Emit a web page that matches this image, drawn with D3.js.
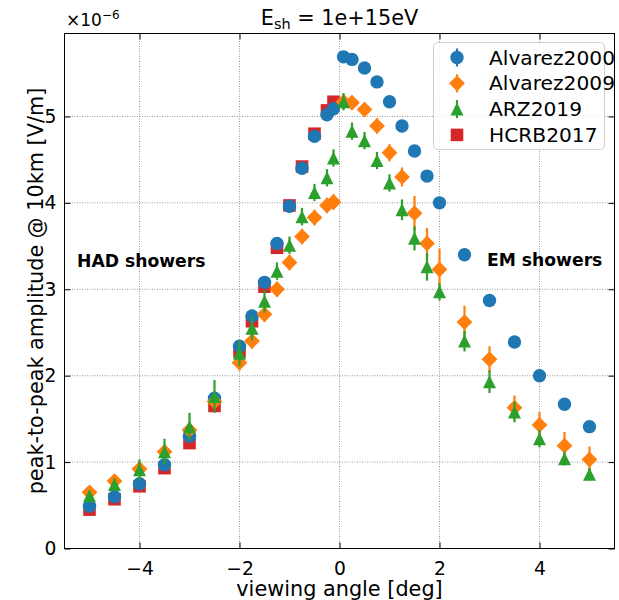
<!DOCTYPE html>
<html>
<head>
<meta charset="utf-8">
<script src="https://cdn.jsdelivr.net/npm/d3@7"></script>
<style>
  body { margin: 0; background: #fff; }
  text { font-family: "DejaVu Sans", sans-serif; }
</style>
</head>
<body>
<div id="my_dataviz"></div>
<script>
// viewing angles (deg), shared by all models
var angles = [-5, -4.5, -4, -3.5, -3, -2.5, -2, -1.75, -1.5, -1.25, -1, -0.75, -0.5, -0.25, -0.12,
              0.08, 0.25, 0.5, 0.75, 1, 1.25, 1.5, 1.75, 2, 2.5, 3, 3.5, 4, 4.5, 5];

// amplitudes in units of 1e-6 V/m
var alvarez2000 = [0.49, 0.60, 0.75, 0.97, 1.30, 1.74, 2.34, 2.69, 3.08, 3.53, 3.96, 4.40, 4.77, 5.02, 5.09,
                   5.69, 5.66, 5.56, 5.40, 5.17, 4.89, 4.60, 4.31, 4.00, 3.40, 2.87, 2.39, 2.00, 1.67, 1.41];
var alvarez2000_err = [0.02, 0.02, 0.02, 0.02, 0.02, 0.02, 0.02, 0.02, 0.02, 0.02, 0.02, 0.02, 0.02, 0.02, 0.02,
                       0.02, 0.02, 0.02, 0.02, 0.02, 0.02, 0.02, 0.02, 0.02, 0.02, 0.02, 0.02, 0.02, 0.02, 0.02];

var alvarez2009 = [0.65, 0.78, 0.92, 1.12, 1.37, 1.70, 2.15, 2.40, 2.71, 3.00, 3.31, 3.61, 3.83, 3.97, 4.01,
                   5.17, 5.16, 5.08, 4.89, 4.58, 4.30, 3.88, 3.53, 3.23, 2.62, 2.19, 1.63, 1.43, 1.19, 1.03];
var alvarez2009_err = [0.06, 0.06, 0.07, 0.08, 0.08, 0.09, 0.09, 0.09, 0.09, 0.09, 0.09, 0.09, 0.09, 0.09, 0.09,
                       0.08, 0.08, 0.08, 0.09, 0.10, 0.11, 0.20, 0.18, 0.24, 0.19, 0.15, 0.14, 0.15, 0.16, 0.15];

var arz2019 = [0.61, 0.74, 0.91, 1.12, 1.41, 1.76, 2.26, 2.55, 2.86, 3.21, 3.51, 3.84, 4.12, 4.29, 4.52,
               5.17, 4.83, 4.72, 4.49, 4.23, 3.92, 3.59, 3.26, 2.97, 2.40, 1.93, 1.58, 1.27, 1.04, 0.86];
var arz2019_err = [0.06, 0.07, 0.12, 0.15, 0.16, 0.19, 0.15, 0.14, 0.13, 0.10, 0.10, 0.10, 0.10, 0.10, 0.10,
                   0.10, 0.10, 0.10, 0.10, 0.10, 0.12, 0.14, 0.16, 0.10, 0.12, 0.13, 0.12, 0.10, 0.08, 0.07];

// HCRB2017 only covers the HAD side
var hcrb_angles = [-5, -4.5, -4, -3.5, -3, -2.5, -2, -1.75, -1.5, -1.25, -1, -0.75, -0.5, -0.25, -0.12];
var hcrb2017 = [0.45, 0.57, 0.72, 0.93, 1.22, 1.65, 2.28, 2.63, 3.03, 3.48, 3.97, 4.42, 4.80, 5.07, 5.17];

var xTicks = [-4, -2, 0, 2, 4];
var yTicks = [0, 1, 2, 3, 4, 5];

var W = 619, H = 600;
// (window.top is read-only, so no plain "top" here)
var pL = 64.5, pR = 614.5, pT = 33.5, pB = 548.5;

var svg = d3.select('#my_dataviz')
            .append('svg')
            .attr('width', W)
            .attr('height', H);

var x = d3.scaleLinear().domain([-5.5, 5.5]).range([pL, pR]);
var y = d3.scaleLinear().domain([0, 5.96]).range([pB, pT]);

// grid
svg.append('g').selectAll('line').data(xTicks).join('line')
    .attr('x1', d => x(d)).attr('x2', d => x(d))
    .attr('y1', pT).attr('y2', pB)
    .attr('stroke', '#999').attr('stroke-width', 1).attr('stroke-dasharray', '1,1.5');
svg.append('g').selectAll('line').data(yTicks).join('line')
    .attr('x1', pL).attr('x2', pR)
    .attr('y1', d => y(d)).attr('y2', d => y(d))
    .attr('stroke', '#999').attr('stroke-width', 1).attr('stroke-dasharray', '1,1.5');

// axes, ticks pointing inwards on all four sides
var tickLen = 6;
var xAxis = svg.append('g')
    .attr('transform', `translate(0,${pB})`)
    .call(d3.axisBottom(x).tickValues(xTicks).tickSizeInner(-tickLen).tickSizeOuter(0).tickPadding(13).tickFormat(d3.format('d')));
var yAxis = svg.append('g')
    .attr('transform', `translate(${pL},0)`)
    .call(d3.axisLeft(y).tickValues(yTicks).tickSizeInner(-tickLen).tickSizeOuter(0).tickPadding(8).tickFormat(d3.format('d')));
svg.append('g')
    .attr('transform', `translate(0,${pT})`)
    .call(d3.axisTop(x).tickValues(xTicks).tickSizeInner(-tickLen).tickSizeOuter(0).tickFormat(''));
svg.append('g')
    .attr('transform', `translate(${pR},0)`)
    .call(d3.axisRight(y).tickValues(yTicks).tickSizeInner(-tickLen).tickSizeOuter(0).tickFormat(''));

svg.selectAll('.domain').remove();
svg.selectAll('.tick line').attr('stroke', '#000').attr('stroke-width', 1);
svg.selectAll('.tick text').attr('font-size', '18.7px').attr('fill', '#000')
    .attr('font-family', '"DejaVu Sans", sans-serif');

svg.append('rect')
    .attr('x', pL).attr('y', pT)
    .attr('width', pR - pL).attr('height', pB - pT)
    .attr('fill', 'none').attr('stroke', '#000').attr('stroke-width', 1);

// marker shapes
var shapes = {
    circle: d3.symbol().type(d3.symbolCircle).size(Math.PI * 6.7 * 6.7),
    diamond: function(){ var s = 7.9; return `M0,${-s}L${s},0L0,${s}L${-s},0Z`; },
    triangle: function(){ var s = 6.5; return `M0,${-s}L${s},${s}L${-s},${s}Z`; },
    square: d3.symbol().type(d3.symbolSquare).size(12.6 * 12.6)
};

var series = [
    {name: 'HCRB2017', xs: hcrb_angles, ys: hcrb2017, err: null, color: '#d62728', shape: 'square'},
    {name: 'Alvarez2000', xs: angles, ys: alvarez2000, err: alvarez2000_err, color: '#1f77b4', shape: 'circle'},
    {name: 'Alvarez2009', xs: angles, ys: alvarez2009, err: alvarez2009_err, color: '#ff7f0e', shape: 'diamond'},
    {name: 'ARZ2019', xs: angles, ys: arz2019, err: arz2019_err, color: '#2ca02c', shape: 'triangle'}
];

var plot = svg.append('g');
series.forEach(function(s){
    var pts = s.xs.map(function(a, i){ return {a: a, v: s.ys[i], e: s.err ? s.err[i] : 0}; });
    var g = plot.append('g');
    g.selectAll('path').data(pts).join('path')
        .attr('transform', d => `translate(${x(d.a)},${y(d.v)})`)
        .attr('d', shapes[s.shape])
        .attr('fill', s.color);
    if (s.err) {
        g.selectAll('line').data(pts).join('line')
            .attr('x1', d => x(d.a)).attr('x2', d => x(d.a))
            .attr('y1', d => y(d.v - d.e)).attr('y2', d => y(d.v + d.e))
            .attr('stroke', s.color).attr('stroke-width', 2.2);
    }
});

// annotations
svg.append('text').attr('x', 77).attr('y', 267)
    .attr('font-size', '17.2px').attr('font-weight', 'bold').text('HAD showers');
svg.append('text').attr('x', 487).attr('y', 266)
    .attr('font-size', '17.2px').attr('font-weight', 'bold').text('EM showers');

// legend
var legend = svg.append('g');
legend.append('rect')
    .attr('x', 433.5).attr('y', 42.5).attr('width', 171).attr('height', 107)
    .attr('rx', 4).attr('fill', '#fff').attr('fill-opacity', 0.8)
    .attr('stroke', '#d0d0d0').attr('stroke-width', 1);
var legendOrder = [series[1], series[2], series[3], series[0]];
legendOrder.forEach(function(s, i){
    var cy = 57.5 + i * 25.8;
    var row = legend.append('g').attr('transform', `translate(457,${cy})`);
    if (s.err) {
        row.append('line').attr('y1', -9).attr('y2', 9)
            .attr('stroke', s.color).attr('stroke-width', 2.2);
    }
    row.append('path').attr('d', shapes[s.shape]).attr('fill', s.color);
    legend.append('text').attr('x', 489).attr('y', cy + 7)
        .attr('font-size', '20.2px').attr('fill', '#000').text(s.name);
});

// offset text, title, axis labels
var off = svg.append('text').attr('x', 66).attr('y', 26).attr('font-size', '17px');
off.append('tspan').text('×10');
off.append('tspan').attr('dy', -7).attr('font-size', '12px').text('−6');

var title = svg.append('text').attr('x', 339.5).attr('y', 25)
    .attr('text-anchor', 'middle').attr('font-size', '20.8px');
title.append('tspan').text('E');
title.append('tspan').attr('dy', 4).attr('font-size', '14.5px').text('sh');
title.append('tspan').attr('dy', -4).text(' = 1e+15eV');

svg.append('text').attr('x', 339.5).attr('y', 596)
    .attr('text-anchor', 'middle').attr('font-size', '20.8px').text('viewing angle [deg]');
svg.append('text')
    .attr('transform', 'translate(43,291) rotate(-90)')
    .attr('text-anchor', 'middle').attr('font-size', '20.8px')
    .text('peak-to-peak amplitude @ 10km [V/m]');
</script>
</body>
</html>
